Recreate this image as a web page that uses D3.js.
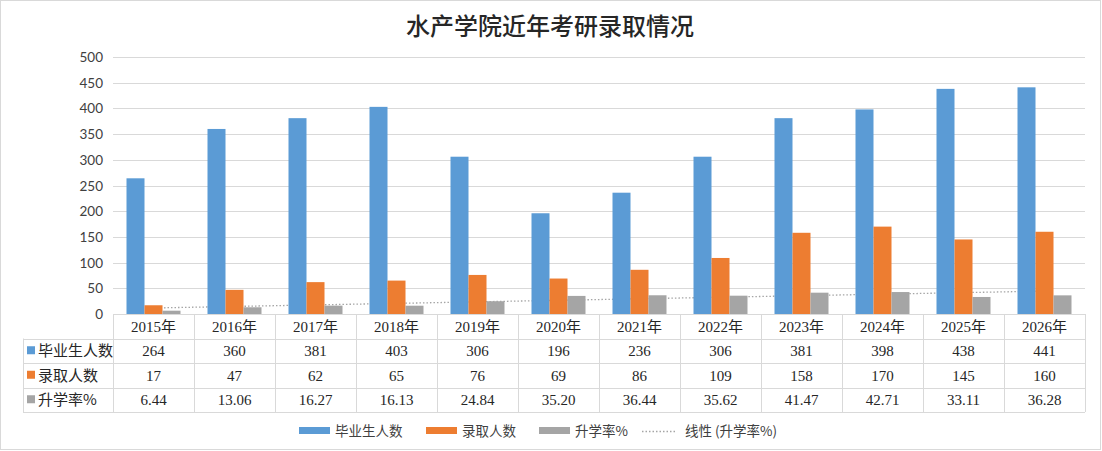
<!DOCTYPE html>
<html>
<head>
<meta charset="utf-8">
<script src="https://cdn.jsdelivr.net/npm/d3@7"></script>
<style>
  body { margin: 0; background: #fff; }
  svg text { font-family: "Lato", "Noto Sans CJK SC", sans-serif; }
  .tbl text { font-family: "Liberation Serif", "Noto Sans CJK SC", serif; }
</style>
</head>
<body>
<svg id="chart" width="1102" height="451"></svg>
<script>
var years = ["2015年", "2016年", "2017年", "2018年", "2019年", "2020年",
             "2021年", "2022年", "2023年", "2024年", "2025年", "2026年"];
var seriesNames = ["毕业生人数", "录取人数", "升学率%"];
var graduates = [264, 360, 381, 403, 306, 196, 236, 306, 381, 398, 438, 441];
var admitted = [17, 47, 62, 65, 76, 69, 86, 109, 158, 170, 145, 160];
var rateLabels = ["6.44", "13.06", "16.27", "16.13", "24.84", "35.20",
                  "36.44", "35.62", "41.47", "42.71", "33.11", "36.28"];
var rate = rateLabels.map(Number);
var yTicks = [0, 50, 100, 150, 200, 250, 300, 350, 400, 450, 500];
var colors = ["#5b9bd5", "#ed7d31", "#a5a5a5"];

var svg = d3.select('#chart');
var plotLeft = 113, plotRight = 1085, plotTop = 57, plotBottom = 314;
var rowH = 24.5, tableLeft = 23;

// outer frame
svg.append('rect')
    .attr('x', 0.5).attr('y', 0.5)
    .attr('width', 1100).attr('height', 449)
    .attr('fill', 'none').attr('stroke', '#d9d9d9');

svg.append('text')
    .attr('x', 550).attr('y', 35)
    .attr('text-anchor', 'middle')
    .attr('font-size', 24)
    .attr('font-weight', 500)
    .attr('fill', '#262626')
    .style('font-family', '"Noto Sans CJK SC", sans-serif')
    .text('水产学院近年考研录取情况');

var x0 = d3.scaleBand().domain(years).range([plotLeft, plotRight]);
var x1 = d3.scaleBand().domain(seriesNames).range([0, x0.bandwidth()]).paddingOuter(0.75);
var y = d3.scaleLinear().domain([0, 500]).range([plotBottom, plotTop]);

// grid + y labels
var yAxis = svg.append('g');
yAxis.selectAll('line').data(yTicks).enter().append('line')
    .attr('x1', plotLeft).attr('x2', plotRight)
    .attr('y1', d => Math.round(y(d)) + 0.5).attr('y2', d => Math.round(y(d)) + 0.5)
    .attr('stroke', '#d9d9d9');
yAxis.selectAll('text').data(yTicks).enter().append('text')
    .attr('x', plotLeft - 10).attr('y', d => y(d) + 5)
    .attr('text-anchor', 'end')
    .attr('font-size', 13.5)
    .attr('fill', '#404040')
    .text(d => d);

// linear trendline for rate (sits behind the bars)
var n = rate.length;
var xs = d3.range(1, n + 1);
var mx = d3.mean(xs), my = d3.mean(rate);
var slope = d3.sum(xs, (v, i) => (v - mx) * (rate[i] - my)) / d3.sum(xs, v => (v - mx) * (v - mx));
var icpt = my - slope * mx;
svg.append('line')
    .attr('x1', x0(years[0]) + x0.bandwidth() / 2)
    .attr('x2', x0(years[n - 1]) + x0.bandwidth() / 2)
    .attr('y1', y(icpt + slope * 1))
    .attr('y2', y(icpt + slope * n))
    .attr('stroke', '#a5a5a5')
    .attr('stroke-width', 1.3)
    .attr('stroke-dasharray', '1.5,2');

// bars
var table = [graduates, admitted, rate];
var groups = svg.append('g').selectAll('g')
    .data(years).enter().append('g')
    .attr('transform', d => 'translate(' + x0(d) + ',0)');
groups.selectAll('rect')
    .data((d, i) => seriesNames.map((s, k) => ({ s: s, k: k, v: table[k][i] })))
    .enter().append('rect')
    .attr('x', d => x1(d.s))
    .attr('width', x1.bandwidth())
    .attr('y', d => y(d.v))
    .attr('height', d => plotBottom - y(d.v))
    .attr('fill', d => colors[d.k]);

// data table
var tbl = svg.append('g').attr('class', 'tbl');
var lineColor = '#d9d9d9';
tbl.append('line').attr('x1', plotLeft).attr('x2', plotRight)
    .attr('y1', plotBottom + 0.5).attr('y2', plotBottom + 0.5).attr('stroke', lineColor);
for (var r = 1; r <= 4; r++) {
    tbl.append('line').attr('x1', tableLeft).attr('x2', plotRight)
        .attr('y1', Math.round(plotBottom + r * rowH) + 0.5)
        .attr('y2', Math.round(plotBottom + r * rowH) + 0.5)
        .attr('stroke', lineColor);
}
tbl.append('line').attr('x1', tableLeft + 0.5).attr('x2', tableLeft + 0.5)
    .attr('y1', plotBottom + rowH).attr('y2', plotBottom + 4 * rowH).attr('stroke', lineColor);
years.concat(['end']).forEach(function (d, i) {
    var xx = Math.round(plotLeft + i * x0.bandwidth()) + 0.5;
    tbl.append('line').attr('x1', xx).attr('x2', xx)
        .attr('y1', plotBottom).attr('y2', plotBottom + 4 * rowH).attr('stroke', lineColor);
});
tbl.selectAll('text.cat').data(years).enter().append('text')
    .attr('class', 'cat')
    .attr('x', d => x0(d) + x0.bandwidth() / 2)
    .attr('y', plotBottom + rowH / 2 + 5.5)
    .attr('text-anchor', 'middle')
    .attr('font-size', 15)
    .attr('fill', '#262626')
    .text(d => d);
var cellText = [graduates, admitted, rateLabels];
cellText.forEach(function (row, k) {
    var cy = plotBottom + (k + 1) * rowH + rowH / 2 + 5.5;
    tbl.selectAll('text.r' + k).data(row).enter().append('text')
        .attr('class', 'r' + k)
        .attr('x', (d, i) => x0(years[i]) + x0.bandwidth() / 2)
        .attr('y', cy)
        .attr('text-anchor', 'middle')
        .attr('font-size', 15)
        .attr('fill', '#262626')
        .text(d => d);
    tbl.append('rect')
        .attr('x', tableLeft + 4).attr('y', cy - 10)
        .attr('width', 8).attr('height', 8)
        .attr('fill', colors[k]);
    tbl.append('text')
        .attr('x', tableLeft + 15).attr('y', cy)
        .attr('font-size', 15)
        .attr('fill', '#262626')
        .style('font-family', '"Noto Sans CJK SC", sans-serif')
        .text(seriesNames[k]);
});

// legend
var legend = svg.append('g').attr('transform', 'translate(0,431)');
var legendX = [299, 426, 539];
seriesNames.forEach(function (s, k) {
    legend.append('rect')
        .attr('x', legendX[k]).attr('y', -4)
        .attr('width', 31).attr('height', 7)
        .attr('fill', colors[k]);
    legend.append('text')
        .attr('x', legendX[k] + 36).attr('y', 5)
        .attr('font-size', 13.5)
        .attr('fill', '#404040')
        .style('font-family', '"Noto Sans CJK SC", sans-serif')
        .text(s);
});
legend.append('line')
    .attr('x1', 642).attr('x2', 677)
    .attr('y1', 0.5).attr('y2', 0.5)
    .attr('stroke', '#a5a5a5')
    .attr('stroke-width', 1.3)
    .attr('stroke-dasharray', '1.5,2');
legend.append('text')
    .attr('x', 685).attr('y', 5)
    .attr('font-size', 13.5)
    .attr('fill', '#404040')
    .style('font-family', '"Noto Sans CJK SC", sans-serif')
    .text('线性 (升学率%)');
</script>
</body>
</html>
